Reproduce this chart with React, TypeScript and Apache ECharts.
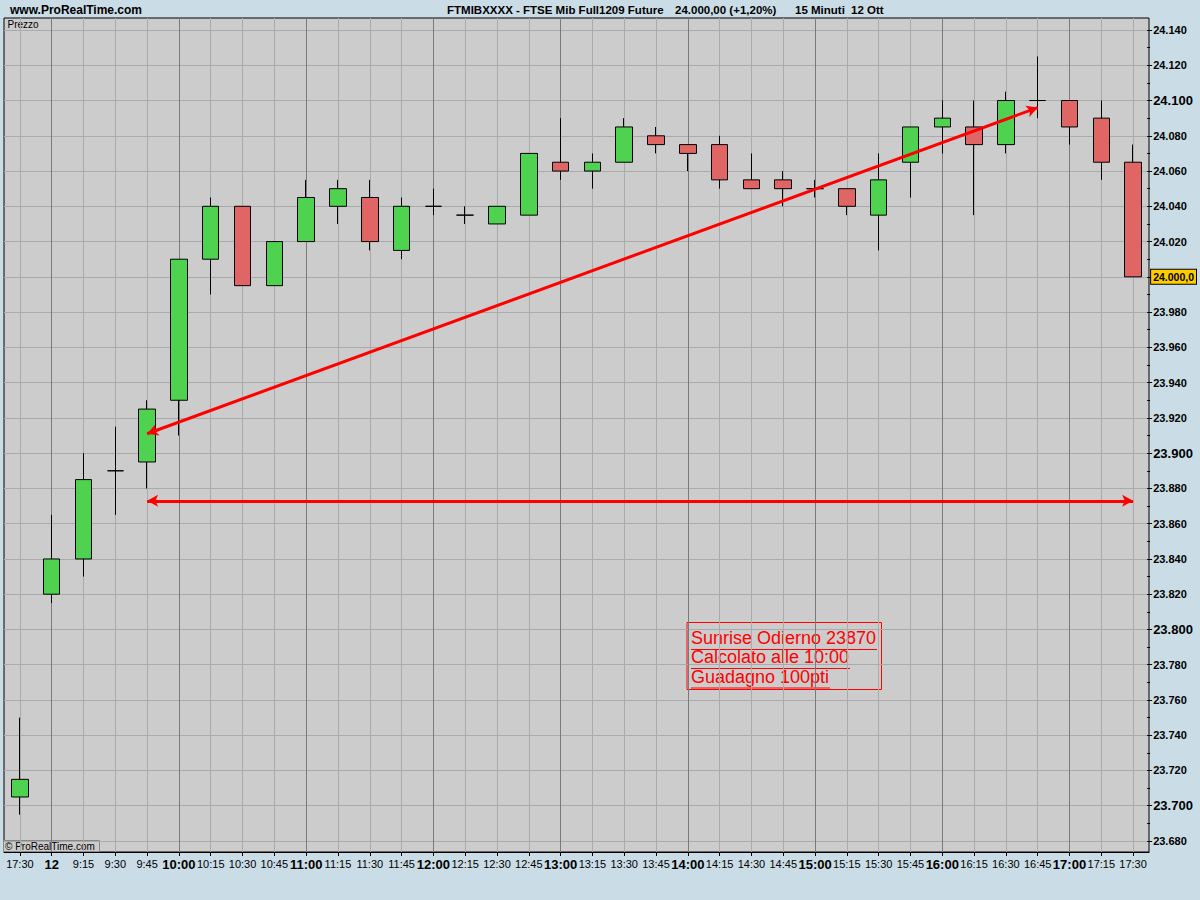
import React, { useEffect, useRef } from 'react';
import * as echarts from 'echarts';

// ---- data ----
const timeLabels = ['17:30','12','9:15','9:30','9:45','10:00','10:15','10:30','10:45','11:00','11:15','11:30','11:45','12:00','12:15','12:30','12:45','13:00','13:15','13:30','13:45','14:00','14:15','14:30','14:45','15:00','15:15','15:30','15:45','16:00','16:15','16:30','16:45','17:00','17:15','17:30'];
const boldLabels = ['12','10:00','11:00','12:00','13:00','14:00','15:00','16:00','17:00'];

const opens  = [23705,23820,23840,23890,23895,23930,24010,24040,23995,24020,24040,24045,24015,24040,24035,24030,24035,24065,24060,24065,24080,24075,24075,24055,24055,24050,24050,24035,24065,24085,24085,24075,24100,24100,24090,24065];
const closes = [23715,23840,23885,23890,23925,24010,24040,23995,24020,24045,24050,24020,24040,24040,24035,24040,24070,24060,24065,24085,24075,24070,24055,24050,24050,24050,24040,24055,24085,24090,24075,24100,24100,24085,24065,24000];
const lows   = [23695,23815,23830,23865,23880,23910,23990,23995,23995,24020,24030,24015,24010,24035,24030,24030,24035,24055,24050,24065,24070,24060,24050,24050,24040,24045,24035,24015,24045,24070,24035,24070,24090,24075,24055,24000];
const highs  = [23750,23865,23900,23915,23930,24010,24045,24040,24020,24055,24055,24055,24045,24050,24040,24040,24070,24090,24070,24090,24085,24075,24080,24070,24060,24055,24050,24070,24085,24100,24100,24105,24125,24100,24100,24075];

const yTickMin = 23680;
const yTickMax = 24140;
const yTickStep = 20;
const yPlotMin = 23673.8;
const yPlotMax = 24146.8;

// arrows: [categoryIndex, value]
const diagArrow = [[4, 23911], [32, 24096]];
const flatArrow = [[4, 23873], [35, 23873]];

const noteLines = ['Sunrise Odierno 23870', 'Calcolato alle 10:00', 'Guadagno 100pti'];
const titleParts = ['FTMIBXXXX - FTSE Mib Full1209 Future', '24.000,00 (+1,20%)', '15 Minuti', '12 Ott'];

const lastClose = closes[closes.length - 1];

function fmtPrice(v: number) {
  const r = Math.round(v);
  const th = Math.floor(r / 1000);
  const rest = String(r % 1000).padStart(3, '0');
  return `${th}.${rest}`;
}

const FONT = '"Liberation Sans", Arial, sans-serif';

export default function App() {
  const ref = useRef<HTMLDivElement>(null);
  useEffect(() => {
    if (!ref.current) return;
    const chart = echarts.init(ref.current, null, { renderer: 'svg' });
    const data = opens.map((o, i) => [o, closes[i], lows[i], highs[i]]);

    const txt = (text: string, x: number, y: number, font: string, fill = '#000') => ({
      type: 'text', x, y, silent: true,
      style: { text, font, fill, textAlign: 'left', textVerticalAlign: 'middle', align: 'left', verticalAlign: 'middle' },
    });

    const titleX = [447, 675, 795, 851];
    const noteY = [638, 657.3, 676.8];
    const underline = [[691, 877, 649.5], [691, 850, 668.5], [691, 830, 688]];

    const option: any = {
      animation: false,
      backgroundColor: '#CADCE6',
      grid: [
        { left: 4, right: 51, top: 18, bottom: 48, show: true, backgroundColor: '#CCCCCC', borderColor: '#000', borderWidth: 1 },
        { left: 4, right: 51, top: 30, bottom: 59, show: false },
      ],
      xAxis: [
        {
          type: 'category', gridIndex: 0, data: timeLabels, boundaryGap: true,
          axisLine: { lineStyle: { color: '#000', width: 1 } },
          axisTick: { show: true, alignWithLabel: true, interval: 0, length: 4, lineStyle: { color: '#000' } },
          axisLabel: {
            interval: 0, margin: 6, color: '#000',
            formatter: (v: string) => (boldLabels.includes(v) ? `{b|${v}}` : `{n|${v}}`),
            rich: {
              n: { fontSize: 11, fontFamily: FONT, color: '#000' },
              b: { fontSize: 13, fontWeight: 'bold', fontFamily: FONT, color: '#000' },
            },
          },
          splitLine: {
            show: true, interval: 0, alignWithLabel: true,
            lineStyle: { color: ['#AAAAAA', '#7A7A7A', '#AAAAAA', '#AAAAAA'], width: 1 },
          },
        },
        { type: 'category', gridIndex: 1, data: timeLabels, show: false },
      ],
      yAxis: [
        { type: 'value', gridIndex: 0, min: yPlotMin, max: yPlotMax, show: false, splitLine: { show: false } },
        {
          type: 'value', gridIndex: 1, position: 'right', min: yTickMin, max: yTickMax, interval: yTickStep,
          axisLine: { show: false },
          axisTick: { show: true, length: 5, lineStyle: { color: '#000' } },
          minorTick: { show: true, splitNumber: 2, length: 3, lineStyle: { color: '#000' } },
          minorSplitLine: { show: false },
          splitLine: { show: true, lineStyle: { color: '#AAAAAA', width: 1 } },
          axisLabel: {
            margin: 4, color: '#000',
            formatter: (v: number) => {
              const r = Math.round(v);
              if (r === lastClose) return `{tag|${fmtPrice(r)},0}`;
              if (r % 100 === 0) return `{big|${fmtPrice(r)}}`;
              return `{sm|${fmtPrice(r)}}`;
            },
            rich: {
              sm: { fontSize: 11, fontWeight: 'bold', fontFamily: FONT, color: '#000', padding: [0, 0, 0, 2] },
              big: { fontSize: 13, fontWeight: 'bold', fontFamily: FONT, color: '#000', padding: [0, 0, 0, 2] },
              tag: { fontSize: 10.5, fontWeight: 'bold', fontFamily: FONT, color: '#000', backgroundColor: '#FFCC00', borderColor: '#000', borderWidth: 1, padding: [2, 2, 1, 2] },
            },
          },
        },
      ],
      series: [
        {
          type: 'candlestick', xAxisIndex: 0, yAxisIndex: 0, data, barWidth: 17,
          itemStyle: { color: '#4FD24F', color0: '#E06666', borderColor: '#000', borderColor0: '#000', borderWidth: 1 },
          emphasis: { disabled: true },
          markLine: {
            silent: true, symbol: ['arrow', 'arrow'], symbolSize: [9, 11], precision: 2,
            label: { show: false },
            emphasis: { disabled: true },
            lineStyle: { color: '#FF0000', width: 3, type: 'solid' },
            data: [
              [{ coord: diagArrow[0] }, { coord: diagArrow[1] }],
              [{ coord: flatArrow[0] }, { coord: flatArrow[1] }],
            ],
          },
        },
      ],
      graphic: [
        txt('www.ProRealTime.com', 10, 9.5, `bold 12px ${FONT}`),
        ...titleParts.map((t, i) => txt(t, titleX[i], 9.5, `bold 11.5px ${FONT}`)),
        txt('Prezzo', 7.5, 24.5, `10px ${FONT}`),
        { type: 'rect', silent: true, shape: { x: 3.5, y: 840.5, width: 96, height: 11 }, style: { fill: '#CCCCCC', stroke: '#888', lineWidth: 1 } },
        txt('\u00A9 ProRealTime.com', 5, 846.5, `10px ${FONT}`),
        { type: 'rect', silent: true, shape: { x: 687, y: 622.5, width: 194.5, height: 67 }, style: { fill: 'none', stroke: '#FF0000', lineWidth: 1 } },
        ...noteLines.map((t, i) => txt(t, 691, noteY[i], `18px ${FONT}`, '#FF0000')),
        ...underline.map(([x1, x2, y]) => ({ type: 'line', silent: true, shape: { x1, y1: y, x2, y2: y }, style: { stroke: '#FF0000', lineWidth: 1 } })),
      ],
    };
    chart.setOption(option);
    return () => chart.dispose();
  }, []);
  return <div ref={ref} style={{ position: 'fixed', left: 0, top: 0, width: 1200, height: 900 }} />;
}
